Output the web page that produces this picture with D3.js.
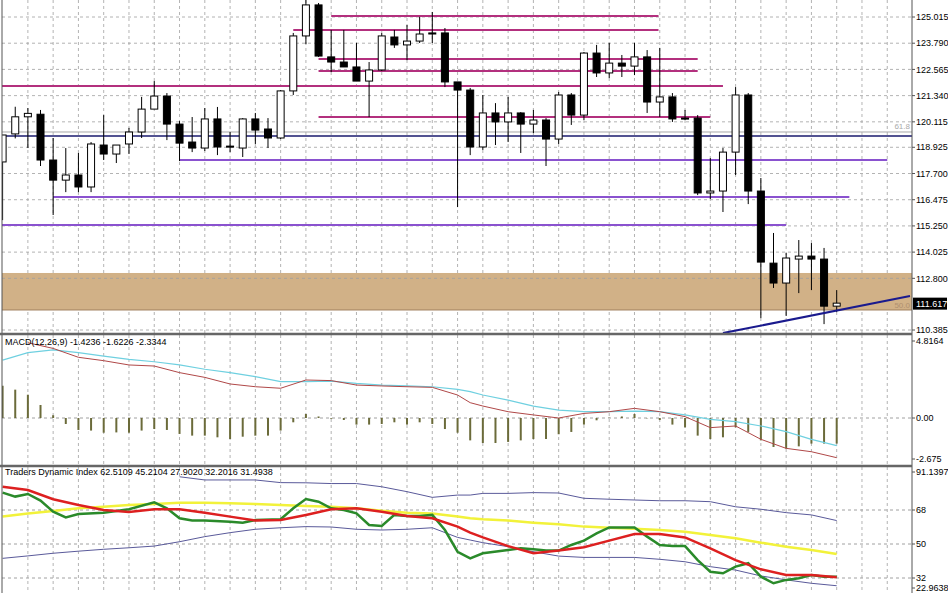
<!DOCTYPE html>
<html><head><meta charset="utf-8">
<script src="https://cdn.jsdelivr.net/npm/d3@7"></script>
<style>body{margin:0;background:#fff}svg{display:block}text{font-family:"Liberation Sans",Arial,sans-serif}</style>
</head><body><svg id="c" width="948" height="593"></svg>
<script>
const open=[118.24,119.55,120.35,120.47,118.33,117.39,117.63,117.07,119.03,118.61,119.08,119.64,120.71,121.32,120.01,119.17,118.89,120.25,118.98,118.89,120.25,119.78,119.36,121.56,124.13,125.58,123.15,122.91,122.68,122.02,122.54,124.08,123.71,123.89,124.27,124.27,121.98,121.60,118.94,120.53,120.11,120.53,120.01,120.20,119.31,121.37,120.43,123.33,122.40,122.86,122.72,123.15,121.04,121.28,120.29,120.29,116.79,116.88,118.70,121.37,116.88,113.51,112.58,113.70,113.84,113.70,111.50];
const high=[119.50,120.82,120.76,120.67,119.36,118.89,118.66,119.17,120.43,119.03,119.83,121.28,122.02,121.46,120.15,120.34,120.76,120.81,119.64,120.29,120.53,120.29,121.60,124.27,125.81,125.67,124.41,124.41,123.80,122.91,124.27,124.41,124.64,125.02,125.25,124.50,121.98,121.70,121.37,120.99,121.28,120.57,120.67,120.29,121.51,121.46,123.38,123.71,123.80,123.24,123.80,123.47,123.57,121.46,120.67,120.43,118.42,118.89,121.74,121.46,117.49,114.92,113.98,114.59,114.45,114.22,112.25];
const low=[115.52,119.34,118.89,118.05,115.76,116.83,116.83,116.83,118.33,118.19,118.61,119.36,120.71,119.26,118.28,118.70,118.75,118.56,118.70,118.47,119.08,118.89,119.31,121.37,123.75,123.15,122.44,122.68,122.02,120.34,122.49,123.57,123.00,123.80,123.80,121.74,116.13,118.56,118.80,119.03,119.17,118.66,119.59,118.05,119.08,119.97,120.20,122.21,122.16,122.21,122.30,120.53,120.34,120.11,120.20,116.69,116.51,115.90,117.63,116.27,110.94,112.35,111.04,112.11,112.25,110.66,111.22];
const close=[119.50,120.35,120.51,118.33,117.39,117.63,117.07,119.08,118.61,119.03,119.64,120.71,121.32,120.01,119.12,118.89,120.25,118.94,118.94,120.25,119.73,119.36,121.56,124.13,125.58,123.19,122.91,122.68,122.02,122.54,124.13,123.71,123.89,124.22,124.22,121.98,121.60,118.94,120.53,120.11,120.53,120.01,120.20,119.31,121.37,120.43,123.33,122.40,122.86,122.72,123.15,121.04,121.28,120.25,120.25,116.79,116.88,118.70,121.37,116.88,113.56,112.58,113.75,113.84,113.70,111.50,111.64];
const priceTicks=["125.015","123.790","122.565","121.340","120.115","118.925","117.700","116.475","115.250","114.025","112.800","110.385"];
const lastPrice=111.617;
const levelPrice=[125.06,124.41,123.05,122.49,121.79,120.34,118.33,116.60,115.29];
const levelFrom=[26,23,25,25,-1,25,14,4,-1];
const levelTo=[51.9,51.9,55,55,57,56,70,67,62];
const levelKind=["m","m","m","m","m","m","p","p","p"];
const navyLevel=119.45, fibLevel=119.64, zoneTop=113.05, zoneBot=111.32;
const trendIdx=[57,71.8], trendPrice=[110.24,111.97];
const macdHist=[2.1,1.85,1.52,0.85,0.18,-0.39,-0.78,-0.82,-0.96,-0.94,-0.96,-0.82,-0.72,-0.78,-1.04,-1.15,-1.15,-1.26,-1.37,-1.22,-1.15,-1.15,-0.82,-0.28,0.26,0.1,-0.05,-0.13,-0.43,-0.43,-0.39,-0.28,-0.43,-0.28,-0.39,-0.72,-0.96,-1.46,-1.63,-1.63,-1.56,-1.46,-1.37,-1.37,-1.06,-0.91,-0.43,-0.15,0.02,0.1,0.26,-0.02,-0.13,-0.43,-0.61,-1.15,-1.37,-1.26,-0.61,-0.91,-1.46,-1.89,-2.0,-1.85,-1.67,-1.67,-1.67];
const macdIdx=[0,2,4,6,8,10,12,14,16,18,20,22,24,26,28,30,32,34,36,37,38,40,42,44,46,48,50,52,54,56,58,60,62,64,66];
const macdCyan=[3.78,4.26,4.44,4.26,4.04,3.83,3.67,3.46,3.18,2.96,2.70,2.37,2.37,2.41,2.26,2.15,2.09,2.04,1.87,1.72,1.5,1.17,0.78,0.52,0.41,0.41,0.45,0.41,0.2,-0.09,-0.24,-0.52,-0.89,-1.39,-1.8];
const macdRed=[null,4.91,4.54,3.96,3.74,3.46,3.39,2.96,2.65,2.22,2.04,1.94,2.48,2.44,2.15,2.09,2.04,2.0,1.5,1.0,0.78,0.41,0.2,0.0,0.3,0.41,0.63,0.41,0.09,-0.63,-0.52,-1.39,-1.98,-2.2,-2.59];
const tdiIdx=[0,2,4,6,8,10,12,14,16,18,20,22,24,26,28,30,32,34,36,37,38,40,42,44,46,48,50,52,54,56,58,60,62,64,66];
const tdiUpper=[null,null,null,null,null,null,null,85.6,83.9,83.9,83.9,82.5,82.4,82.0,82.0,80.3,77.7,74.7,75.9,75.9,76.8,76.8,77.2,77.0,74.2,73.7,73.3,72.9,72.9,72.4,69.7,68.4,66.6,65.4,62.4];
const tdiLower=[42.4,43.7,45.1,46.2,47.2,48.0,48.9,51.2,53.9,56.0,57.8,58.6,59.2,59.0,57.8,57.4,57.8,58.6,53.5,52.1,50.7,48.6,45.9,43.6,42.9,42.9,42.9,41.9,40.6,38.0,36.2,33.1,31.0,29.2,27.9];
const tdiYellow=[64.5,66.2,67.5,68.9,69.7,70.6,71.2,71.9,71.9,71.6,71.2,70.6,70.1,69.7,68.9,67.6,66.6,66.2,64.5,63.6,63.1,62.4,61.3,60.4,59.2,58.6,58.1,57.4,56.5,54.8,53.0,50.7,48.6,46.8,44.7];
const tdiRed=[80.3,78.6,73.7,70.6,68.0,66.9,68.4,68.4,66.6,64.5,62.4,62.7,65.4,68.4,68.9,67.1,64.8,63.6,59.2,56.0,53.5,48.9,45.1,46.5,48.3,51.8,55.3,55.3,53.5,47.7,41.5,36.6,33.6,33.6,32.4];
const greenIdx=[0,1,2,3,4,5,6,8,10,12,13,14,15,16,18,19,20,22,23,24,25,26,27,28,29,30,31,32,33,34,35,36,37,38,40,41,42,43,44,45,46,47,48,49,50,51,52,53,54,55,56,57,58,59,60,61,62,63,64,65,66];
const tdiGreen=[77.2,75.1,76.5,73.0,67.1,64.1,65.9,66.6,68.4,72.1,68.9,63.6,62.4,62.4,61.8,61.2,62.7,63.1,68.9,73.8,72.4,68.9,68.0,66.2,60.1,59.5,65.4,64.8,64.8,65.4,57.4,45.9,42.4,45.1,46.8,47.7,47.2,46.5,46.5,49.5,51.8,55.6,58.8,58.8,58.8,53.9,49.5,48.9,48.9,41.5,35.3,34.5,38.0,39.8,32.7,29.2,31.0,31.9,33.6,32.7,32.7];
const tdiTicks=[68,50,32];

const svg=d3.select("#c");
const L=2,R=912;
const x=d3.scaleLinear().domain([0,66]).range([2.6,836.7]);
const yP=d3.scaleLinear().domain([110.385,125.015]).range([330,17]);
const yM=d3.scaleLinear().domain([-2.675,0]).range([459,418]);
const yT=d3.scaleLinear().domain([32,68]).range([578,510]);
const panels=[[0,333],[335,465],[467,593]];
const grid="#a0a0a0";
panels.forEach((p,k)=>{
  const g=svg.append("g");
  g.append("defs").append("clipPath").attr("id","cp"+k).append("rect").attr("x",L).attr("y",p[0]).attr("width",R-L).attr("height",p[1]-p[0]);
  d3.range(2,71,2).forEach(i=>g.append("line").attr("x1",x(i)).attr("x2",x(i)).attr("y1",p[0]).attr("y2",p[1]).attr("stroke",grid).attr("stroke-dasharray","3,3").attr("stroke-width",0.8));
});
const clip=k=>svg.append("g").attr("clip-path","url(#cp"+k+")");
const gm=clip(0);
gm.append("rect").attr("x",L).attr("width",R-L).attr("y",yP(zoneTop)).attr("height",yP(zoneBot)-yP(zoneTop)).attr("fill","#d1b187");
priceTicks.forEach(t=>gm.append("line").attr("x1",L).attr("x2",R).attr("y1",yP(+t)).attr("y2",yP(+t)).attr("stroke",grid).attr("stroke-dasharray","3,3").attr("stroke-width",0.8));
gm.append("line").attr("x1",L).attr("x2",R).attr("y1",yP(fibLevel)).attr("y2",yP(fibLevel)).attr("stroke","#a8a8a8").attr("stroke-width",1);
gm.append("line").attr("x1",L).attr("x2",R).attr("y1",yP(zoneBot)).attr("y2",yP(zoneBot)).attr("stroke","#a08060").attr("stroke-width",1);
gm.append("line").attr("x1",L).attr("x2",R).attr("y1",yP(navyLevel)).attr("y2",yP(navyLevel)).attr("stroke","#1a1a6e").attr("stroke-width",1.5);
levelPrice.forEach((p,i)=>gm.append("line").attr("x1",x(levelFrom[i])).attr("x2",x(levelTo[i])).attr("y1",yP(p)).attr("y2",yP(p)).attr("stroke",levelKind[i]=="m"?"#b3307e":"#8a52cf").attr("stroke-width",2));
gm.append("text").attr("x",R-2).attr("y",yP(fibLevel)-3).attr("text-anchor","end").attr("font-size",8).attr("fill","#aaa").text("61.8");
gm.append("text").attr("x",R-2).attr("y",yP(zoneBot)-2).attr("text-anchor","end").attr("font-size",8).attr("fill","#b09070").text("50.0");
open.forEach((o,i)=>{
  const c=close[i],bull=c>=o,cx=x(i);
  gm.append("line").attr("x1",cx).attr("x2",cx).attr("y1",yP(high[i])).attr("y2",yP(low[i])).attr("stroke","#000").attr("stroke-width",1);
  const t=yP(Math.max(o,c)),b=yP(Math.min(o,c));
  gm.append("rect").attr("x",cx-3.5).attr("width",7).attr("y",t).attr("height",Math.max(1,b-t)).attr("fill",bull?"#fff":"#000").attr("stroke","#000").attr("stroke-width",1);
});
gm.append("line").attr("x1",x(trendIdx[0])).attr("x2",x(trendIdx[1])).attr("y1",yP(trendPrice[0])).attr("y2",yP(trendPrice[1])).attr("stroke","#1a1a8e").attr("stroke-width",2);
const gc=clip(1);
gc.append("line").attr("x1",L).attr("x2",R).attr("y1",yM(0)).attr("y2",yM(0)).attr("stroke",grid).attr("stroke-dasharray","3,3");
macdHist.forEach((v,i)=>gc.append("line").attr("x1",x(i)).attr("x2",x(i)).attr("y1",yM(0)).attr("y2",yM(v)).attr("stroke","#6b6b3a").attr("stroke-width",2));
const lm=(arr)=>d3.line().defined(d=>d!=null).x((d,i)=>x(macdIdx[i])).y(d=>yM(d))(arr);
gc.append("path").attr("d",lm(macdCyan)).attr("fill","none").attr("stroke","#6fd0e0").attr("stroke-width",1.2);
gc.append("path").attr("d",lm(macdRed)).attr("fill","none").attr("stroke","#b04848").attr("stroke-width",1);
svg.append("text").attr("x",5).attr("y",345).attr("font-size",9).text("MACD(12,26,9) -1.4236 -1.6226 -2.3344");
const gt=clip(2);
tdiTicks.forEach(t=>gt.append("line").attr("x1",L).attr("x2",R).attr("y1",yT(t)).attr("y2",yT(t)).attr("stroke",grid).attr("stroke-dasharray","3,3"));
const lt=(idx,arr)=>d3.line().defined(d=>d!=null).x((d,i)=>x(idx[i])).y(d=>yT(d))(arr);
gt.append("path").attr("d",lt(tdiIdx,tdiUpper)).attr("fill","none").attr("stroke","#5a5a9a").attr("stroke-width",1);
gt.append("path").attr("d",lt(tdiIdx,tdiLower)).attr("fill","none").attr("stroke","#5a5a9a").attr("stroke-width",1);
gt.append("path").attr("d",lt(tdiIdx,tdiYellow)).attr("fill","none").attr("stroke","#f2f23a").attr("stroke-width",2.5);
gt.append("path").attr("d",lt(greenIdx,tdiGreen)).attr("fill","none").attr("stroke","#2a8a2a").attr("stroke-width",2.5);
gt.append("path").attr("d",lt(tdiIdx,tdiRed)).attr("fill","none").attr("stroke","#dd2020").attr("stroke-width",2.5);
svg.append("text").attr("x",5).attr("y",475).attr("font-size",9).text("Traders Dynamic Index 62.5109 45.2104 27.9020 32.2016 31.4938");
svg.append("line").attr("x1",L).attr("x2",L).attr("y1",0).attr("y2",593).attr("stroke","#555");
svg.append("line").attr("x1",R).attr("x2",R).attr("y1",0).attr("y2",593).attr("stroke","#555");
[334,466].forEach(y=>svg.append("line").attr("x1",0).attr("x2",R).attr("y1",y).attr("y2",y).attr("stroke","#666").attr("stroke-width",2.5));
const ax=svg.append("g").attr("font-size",9);
const tick=(y,t)=>{ax.append("line").attr("x1",R).attr("x2",R+3).attr("y1",y).attr("y2",y).attr("stroke","#555");ax.append("text").attr("x",R+4).attr("y",y+3.2).text(t);};
priceTicks.forEach(t=>tick(yP(+t),t));
ax.append("rect").attr("x",R+1).attr("y",yP(lastPrice)-6).attr("width",34).attr("height",12).attr("fill","#000");
ax.append("text").attr("x",R+4).attr("y",yP(lastPrice)+3.2).attr("fill","#fff").text(lastPrice.toFixed(3));
tick(341,"4.8164");tick(yM(0),"0.00");tick(yM(-2.675),"-2.675");
tick(472,"91.1397");tdiTicks.forEach(t=>tick(yT(t),String(t)));tick(588,"22.9638");
</script></body></html>
